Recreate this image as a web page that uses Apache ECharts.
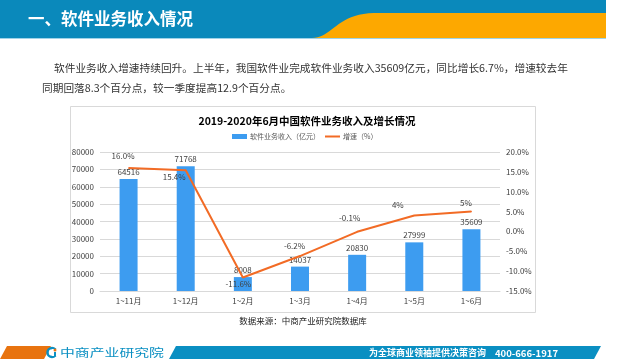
<!DOCTYPE html>
<html><head><meta charset="utf-8">
<script src="https://cdn.jsdelivr.net/npm/echarts@6/dist/echarts.min.js"></script>
<style>html,body{margin:0;padding:0;background:#fff}#c{width:640px;height:360px}</style>
</head><body><div id="c"></div>
<script>
var categories = ['1~11月','1~12月','1~2月','1~3月','1~4月','1~5月','1~6月'];
var revenue = [64516, 71768, 8008, 14037, 20830, 27999, 35609];
var growth = [16.0, 15.4, -11.6, -6.2, -0.1, 4, 5];
var growthLabels = ['16.0%','15.4%','-11.6%','-6.2%','-0.1%','4%','5%'];
var leftTicks = {min: 0, max: 80000, interval: 10000};
var rightTicks = {min: -15, max: 20, interval: 5};
var pageTitle = '一、软件业务收入情况';
var paraLine1 = '软件业务收入增速持续回升。上半年，我国软件业完成软件业务收入35609亿元，同比增长6.7%，增速较去年';
var paraLine2 = '同期回落8.3个百分点，较一季度提高12.9个百分点。';
var chartTitle = '2019-2020年6月中国软件业务收入及增长情况';
var seriesNames = ['软件业务收入（亿元）', '增速（%）'];
var sourceText = '数据来源：中商产业研究院数据库';
var brandText = '中商产业研究院';
var sloganText = '为全球商业领袖提供决策咨询';
var phoneText = '400-666-1917';

var FONT = '"Noto Sans CJK SC", "Noto Sans", sans-serif';
// label anchor offsets (px) relative to each line point
var labelPosXY = [[-5,-11],[-11,7],[-4,7],[-5,-10],[-7,-13],[-16,-10],[-5,-8]];

// header wave shape (decoration)
function wavePoints() {
  var p0 = [312, 38], p1 = [332, 38], p2 = [336, 14], p3 = [374, 13];
  var pts = [];
  for (var i = 0; i <= 20; i++) {
    var t = i / 20, u = 1 - t;
    pts.push([
      u*u*u*p0[0] + 3*u*u*t*p1[0] + 3*u*t*t*p2[0] + t*t*t*p3[0],
      u*u*u*p0[1] + 3*u*u*t*p1[1] + 3*u*t*t*p2[1] + t*t*t*p3[1]
    ]);
  }
  pts.push([606, 13], [606, 38]);
  return pts;
}

var chart = echarts.init(document.getElementById('c'), null, {renderer: 'canvas'});
var lineData = growth.map(function (v, i) {
  return {value: v, label: {show: true, position: labelPosXY[i], align: 'center', verticalAlign: 'middle', formatter: growthLabels[i]}};
});

chart.setOption({
  animation: false,
  backgroundColor: '#ffffff',
  textStyle: {fontFamily: FONT},
  title: {
    text: chartTitle, left: 302, top: 111, textAlign: 'center',
    textStyle: {fontSize: 10.5, fontWeight: 'bold', color: '#000', fontFamily: FONT}
  },
  legend: {
    left: 232, top: 133, padding: 0, itemWidth: 15, itemHeight: 5, itemGap: 5,
    textStyle: {fontSize: 7, color: '#595959', fontFamily: FONT, padding: [0, 0, 0, -2]},
    data: [{name: seriesNames[0], icon: 'rect'}, {name: seriesNames[1], icon: 'path://M0,0 L30,0 L30,4 L0,4 Z'}]
  },
  grid: {left: 100, right: 140, top: 152, bottom: 69, containLabel: false},
  xAxis: {
    type: 'category', data: categories,
    axisLine: {lineStyle: {color: '#d9d9d9'}},
    axisTick: {show: false},
    axisLabel: {fontSize: 8, color: '#404040', margin: 6, fontFamily: FONT}
  },
  yAxis: [{
    type: 'value', min: leftTicks.min, max: leftTicks.max, interval: leftTicks.interval,
    axisLine: {show: false}, axisTick: {show: false},
    axisLabel: {fontSize: 8, color: '#404040', margin: 6, formatter: function (v) { return String(v); }},
    splitLine: {lineStyle: {color: '#d9d9d9'}}
  }, {
    type: 'value', min: rightTicks.min, max: rightTicks.max, interval: rightTicks.interval,
    axisLine: {show: false}, axisTick: {show: false},
    axisLabel: {fontSize: 8, color: '#404040', margin: 6, formatter: function (v) { return v.toFixed(1) + '%'; }},
    splitLine: {show: false}
  }],
  series: [{
    name: seriesNames[0], type: 'bar', data: revenue, barWidth: 18,
    itemStyle: {color: '#3d9cf0'},
    label: {show: true, position: 'top', distance: 3, fontSize: 8, color: '#404040'}
  }, {
    name: seriesNames[1], type: 'line', yAxisIndex: 1, data: lineData,
    symbol: 'circle', symbolSize: 1, showSymbol: true,
    lineStyle: {color: '#f26b25', width: 2}, itemStyle: {color: '#f26b25'},
    label: {show: true, fontSize: 8, color: '#404040'},
    labelLayout: {hideOverlap: false}
  }],
  graphic: [
    {type: 'rect', shape: {x: 0, y: 0, width: 606, height: 38}, style: {fill: '#0a89bb'}, silent: true},
    {type: 'polygon', shape: {points: wavePoints()}, style: {fill: '#fda800'}, silent: true},
    {type: 'rect', shape: {x: 0, y: 38, width: 606, height: 1}, style: {fill: '#9fd3e8'}, silent: true},
    {type: 'text', x: 28, y: 19, style: {text: pageTitle, fill: '#ffffff', font: 'bold 16.5px ' + FONT, verticalAlign: 'middle'}},
    {type: 'text', x: 54, y: 68, style: {text: paraLine1, fill: '#333333', font: '10.7px ' + FONT, verticalAlign: 'middle'}},
    {type: 'text', x: 42, y: 88, style: {text: paraLine2, fill: '#333333', font: '10.7px ' + FONT, verticalAlign: 'middle'}},
    {type: 'rect', shape: {x: 70.5, y: 106.5, width: 465, height: 206}, style: {fill: 'none', stroke: '#d9d9d9', lineWidth: 1}, silent: true},
    {type: 'text', x: 303, y: 321, style: {text: sourceText, fill: '#222222', font: '8.5px ' + FONT, align: 'center', verticalAlign: 'middle'}},
    {type: 'polygon', shape: {points: [[7,346],[51,346],[44,359],[0,359]]}, style: {fill: '#e8730f'}, silent: true},
    {type: 'polygon', shape: {points: [[176,346],[601,346],[594,359],[169,359]]}, style: {fill: '#0a8fc2'}, silent: true},
    {type: 'circle', shape: {cx: 52, cy: 352.5, r: 4.5}, style: {fill: 'none', stroke: '#0a8fc2', lineWidth: 2.5}, silent: true},
    {type: 'rect', shape: {x: 52, y: 349, width: 6, height: 7}, style: {fill: '#ffffff'}, silent: true},
    {type: 'circle', shape: {cx: 55, cy: 350, r: 1.5}, style: {fill: '#e8730f'}, silent: true},
    {type: 'rect', shape: {x: 54, y: 352, width: 2, height: 4}, style: {fill: '#0a8fc2'}, silent: true},
    {type: 'text', x: 60, y: 353, scaleX: 1.35, style: {text: brandText, fill: '#0a8fc2', font: '11px ' + FONT, verticalAlign: 'middle'}},
    {type: 'text', x: 486, y: 353, style: {text: sloganText, fill: '#ffffff', font: 'bold 9px ' + FONT, align: 'right', verticalAlign: 'middle'}},
    {type: 'text', x: 558, y: 353, style: {text: phoneText, fill: '#ffffff', font: 'bold 9.5px ' + FONT, align: 'right', verticalAlign: 'middle'}}
  ]
});
</script></body></html>
